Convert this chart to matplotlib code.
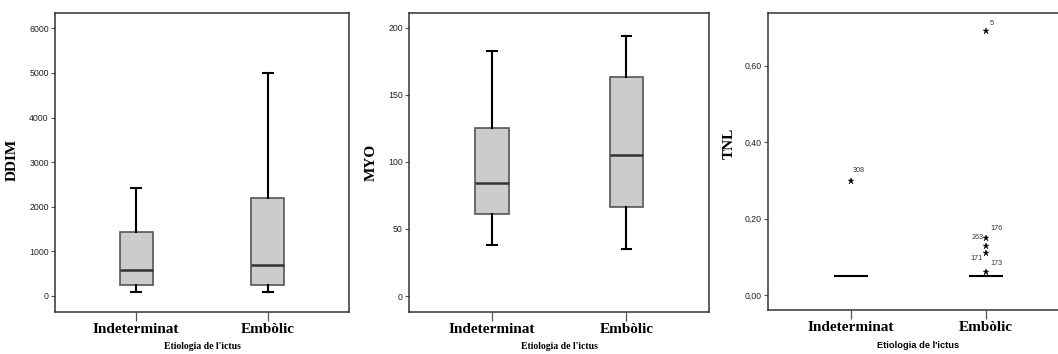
import matplotlib
matplotlib.use("Agg")
import matplotlib.pyplot as plt

categories = ["Indeterminat", "Embòlic"]

# DDIM box stats: whislo, q1, med, q3, whishi
ddim_whislo = [100, 100]
ddim_q1 = [255, 255]
ddim_med = [575, 690]
ddim_q3 = [1445, 2190]
ddim_whishi = [2430, 5000]

# MYO box stats
myo_whislo = [38, 35]
myo_q1 = [61, 66]
myo_med = [84, 105]
myo_q3 = [125, 163]
myo_whishi = [183, 194]

# TNL box stats (collapsed boxes) and outliers
tnl_whislo = [0.05, 0.05]
tnl_q1 = [0.05, 0.05]
tnl_med = [0.05, 0.05]
tnl_q3 = [0.05, 0.05]
tnl_whishi = [0.05, 0.05]
tnl_out_ind = [0.30]
tnl_out_ind_labels = ["308"]
tnl_out_emb = [0.06, 0.11, 0.13, 0.15, 0.69]

ddim_ticks = [0, 1000, 2000, 3000, 4000, 5000, 6000]
myo_ticks = [0, 50, 100, 150, 200]
tnl_ticks = [0.0, 0.2, 0.4, 0.6]
tnl_ticklabels = ["0,00", "0,20", "0,40", "0,60"]

W, H = 1058, 354
fig = plt.figure(figsize=(W / 100, H / 100), dpi=100)

SERIF = "Liberation Serif"
SANS = "Liberation Sans"
SPINE = "#333333"


def make_stats(lo, q1, med, q3, hi, fliers=None):
    out = []
    for i in range(len(lo)):
        out.append(dict(whislo=lo[i], q1=q1[i], med=med[i], q3=q3[i], whishi=hi[i],
                        fliers=(fliers[i] if fliers else [])))
    return out


def style_axes(ax, ylabel, yticks, yticklabels, ylim, ylabel_xy, xlabel_y, xlabel_sans=False):
    ax.set_xlim(-0.615, 1.615)
    ax.set_ylim(*ylim)
    for s in ax.spines.values():
        s.set_color(SPINE)
        s.set_linewidth(1.1)
    ax.set_xticks([0, 1])
    ax.set_xticklabels(categories, fontfamily=SERIF, fontweight="bold", fontsize=11)
    ax.set_yticks(yticks)
    ax.set_yticklabels(yticklabels, fontfamily=SANS, fontsize=6.3, color="#222222")
    ax.tick_params(axis="x", direction="out", length=6.5, width=0.9, color="#555555", pad=1.5)
    ax.tick_params(axis="y", direction="out", length=3, width=0.8, color="#555555", pad=1.5)
    ax.set_ylabel(ylabel, fontfamily=SERIF, fontweight="bold", fontsize=11)
    ax.yaxis.set_label_coords(*ylabel_xy)
    if xlabel_sans:
        ax.set_xlabel("Etiologia de l'ictus", fontfamily=SANS, fontweight="bold", fontsize=6.7)
    else:
        ax.set_xlabel("Etiologia de l'ictus", fontfamily=SERIF, fontweight="bold", fontsize=7)
    ax.xaxis.set_label_coords(0.5, xlabel_y)


box_kw = dict(
    widths=0.25,
    patch_artist=True,
    capwidths=0.07,
    boxprops=dict(facecolor="#cccccc", edgecolor="#555555", linewidth=1.2),
    medianprops=dict(color="#333333", linewidth=1.8),
    whiskerprops=dict(color="black", linewidth=1.5),
    capprops=dict(color="black", linewidth=1.5),
    showfliers=False,
)

# Panel 1: DDIM
ax1 = fig.add_axes([55 / W, 1 - 311.7 / H, (349 - 55) / W, (311.7 - 13) / H])
ax1.bxp(make_stats(ddim_whislo, ddim_q1, ddim_med, ddim_q3, ddim_whishi), positions=[0, 1], **box_kw)
style_axes(ax1, "DDIM", ddim_ticks, [str(t) for t in ddim_ticks], (-352, 6343), (-0.122, 0.508), -0.103)

# Panel 2: MYO
ax2 = fig.add_axes([409 / W, 1 - 311.7 / H, (709.3 - 409) / W, (311.7 - 13) / H])
ax2.bxp(make_stats(myo_whislo, myo_q1, myo_med, myo_q3, myo_whishi), positions=[0, 1], **box_kw)
style_axes(ax2, "MYO", myo_ticks, [str(t) for t in myo_ticks], (-11.7, 211), (-0.103, 0.50), -0.103)

# Panel 3: TNL
ax3 = fig.add_axes([767.7 / W, 1 - 310 / H, (1069 - 767.7) / W, (310 - 12.7) / H])
tnl_kw = dict(box_kw)
tnl_kw["medianprops"] = dict(color="black", linewidth=1.5)
tnl_kw["capprops"] = dict(color="black", linewidth=0)
ax3.bxp(make_stats(tnl_whislo, tnl_q1, tnl_med, tnl_q3, tnl_whishi), positions=[0, 1], **tnl_kw)
ax3.plot([0] * len(tnl_out_ind), tnl_out_ind, linestyle="none", marker="*", color="black",
         markersize=5, markeredgewidth=0.3)
ax3.plot([1] * len(tnl_out_emb), tnl_out_emb, linestyle="none", marker="*", color="black",
         markersize=5, markeredgewidth=0.3)
style_axes(ax3, "TNL", tnl_ticks, tnl_ticklabels, (-0.0384, 0.7385), (-0.105, 0.56), -0.105,
           xlabel_sans=True)

lab_kw = dict(textcoords="offset points", fontfamily=SANS, fontsize=5.2, color="#333333")
ax3.annotate("308", xy=(0, tnl_out_ind[0]), xytext=(1.5, 5), ha="left", va="bottom", **lab_kw)
ax3.annotate("5", xy=(1, tnl_out_emb[4]), xytext=(3, 3), ha="left", va="bottom", **lab_kw)
ax3.annotate("176", xy=(1, tnl_out_emb[3]), xytext=(3, 4), ha="left", va="bottom", **lab_kw)
ax3.annotate("263", xy=(1, tnl_out_emb[3]), xytext=(-1.5, 0), ha="right", va="center", **lab_kw)
ax3.annotate("171", xy=(1, tnl_out_emb[0]), xytext=(-2, 7.5), ha="right", va="bottom", **lab_kw)
ax3.annotate("173", xy=(1, tnl_out_emb[0]), xytext=(3, 4), ha="left", va="bottom", **lab_kw)

fig.savefig("out.png", dpi=100)
